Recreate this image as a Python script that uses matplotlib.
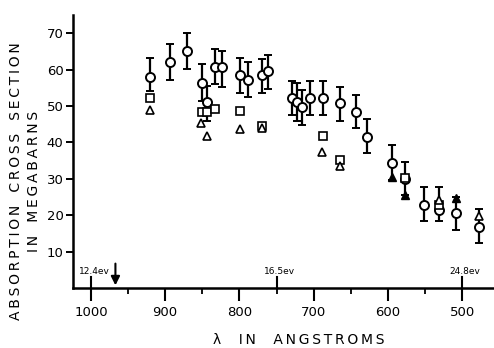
import matplotlib.pyplot as plt
import numpy as np

# circles with error bars: wavelength (A), value, lower end, upper end
circ_x = [921, 893, 871, 851, 843, 833, 824, 799, 788, 770, 761, 729, 723, 716, 705,
          688, 664, 643, 628, 595, 577, 551, 531, 508, 477]
circ_y = [58, 62, 65, 56.3, 51, 60.8, 60.6, 58.4, 57.2, 58.4, 59.5, 52.1, 51, 49.7, 52.1,
          52.1, 50.8, 48.4, 41.6, 34.3, 30.1, 22.9, 21.5, 20.5, 16.8]
circ_lo = [54, 57.2, 60.2, 51.5, 46, 56, 55.3, 53.5, 52.4, 53.5, 54.7, 47.4, 46, 44.7, 47.4,
           47.4, 46, 44, 37.1, 29.6, 25.5, 18.4, 18.4, 16, 12.4]
circ_hi = [63.2, 67, 70, 61.5, 55.6, 65.7, 65.2, 63.2, 62, 62.9, 64, 57, 56.2, 54.4, 57,
           57, 55.3, 53, 46.5, 39.2, 34.6, 27.8, 27.8, 25, 21.8]

sq_x = [921, 851, 843, 833, 799, 770, 688, 664, 577, 531]
sq_y = [52.2, 48.4, 48.4, 49.1, 48.5, 44.5, 41.9, 35.2, 30.2, 22.7]

tri_x = [921, 852, 843, 799, 770, 689, 664, 531, 477]
tri_y = [49, 45.3, 41.9, 43.6, 44, 37.3, 33.4, 24.1, 19.7]

ftri_x = [595, 577, 508]
ftri_y = [30.5, 25.5, 24.8]

ev_pos = [1000, 750, 500]
ev_labels = ["12.4ev", "16.5ev", "24.8ev"]
arrow_x = 967

plt.rcParams['font.family'] = 'DejaVu Sans'
fig = plt.figure(figsize=(4.94, 3.48), dpi=100)
ax = fig.add_axes([0.148, 0.172, 0.852, 0.785])

circ_y = np.array(circ_y)
yerr = [circ_y - np.array(circ_lo), np.array(circ_hi) - circ_y]
ax.errorbar(circ_x, circ_y, yerr=yerr, fmt='o', mfc='white', mec='black', mew=1.4,
            ms=6.5, ecolor='black', elinewidth=1.6, capsize=3, capthick=1.6, zorder=3)
ax.plot(sq_x, sq_y, 's', mfc='white', mec='black', mew=1.2, ms=5.5, ls='none', zorder=4)
ax.plot(tri_x, tri_y, '^', mfc='white', mec='black', mew=1.2, ms=5.5, ls='none', zorder=4)
ax.plot(ftri_x, ftri_y, '^', mfc='black', mec='black', ms=6, ls='none', zorder=4)

ax.set_xlim(1024, 457)
ax.set_ylim(0, 75)
ax.set_xticks([1000, 900, 800, 700, 600, 500])
ax.set_xticks([950, 850, 750, 650, 550], minor=True)
ax.set_yticks([10, 20, 30, 40, 50, 60, 70])
ax.tick_params(axis='x', which='major', length=9, width=1.5, labelsize=9.5, pad=4)
ax.tick_params(axis='x', which='minor', length=4, width=1.3)
ax.tick_params(axis='y', length=5, width=1.4, labelsize=9.5, pad=2)

for s in ['top', 'right']:
    ax.spines[s].set_visible(False)
for s in ['left', 'bottom']:
    ax.spines[s].set_linewidth(1.8)

# eV markers above the axis
for p, lab in zip(ev_pos, ev_labels):
    ax.plot([p, p], [0, 3.0], color='black', lw=1.5, clip_on=False)
    ax.text(p - 4, 4.6, lab, ha='center', va='center', fontsize=6.5)
ax.annotate('', xy=(arrow_x, 0), xytext=(arrow_x, 7.5),
            arrowprops=dict(arrowstyle='-|>', color='black', lw=1.5, mutation_scale=13))

ts = '\u2009'
ylab1 = "   ".join(ts.join(w) for w in ["ABSORPTION", "CROSS", "SECTION"])
ylab2 = "   ".join(ts.join(w) for w in ["IN", "MEGABARNS"])
ax.set_ylabel(ylab1 + "\n" + ylab2, fontsize=10, linespacing=1.35)
ax.yaxis.set_label_coords(-0.076, 0.392)
ax.set_xlabel("λ    " + "    ".join(ts.join(w) for w in ["IN", "ANGSTROMS"]), fontsize=10)
ax.xaxis.set_label_coords(0.537, -0.165)

fig.savefig("out.png", dpi=100)
